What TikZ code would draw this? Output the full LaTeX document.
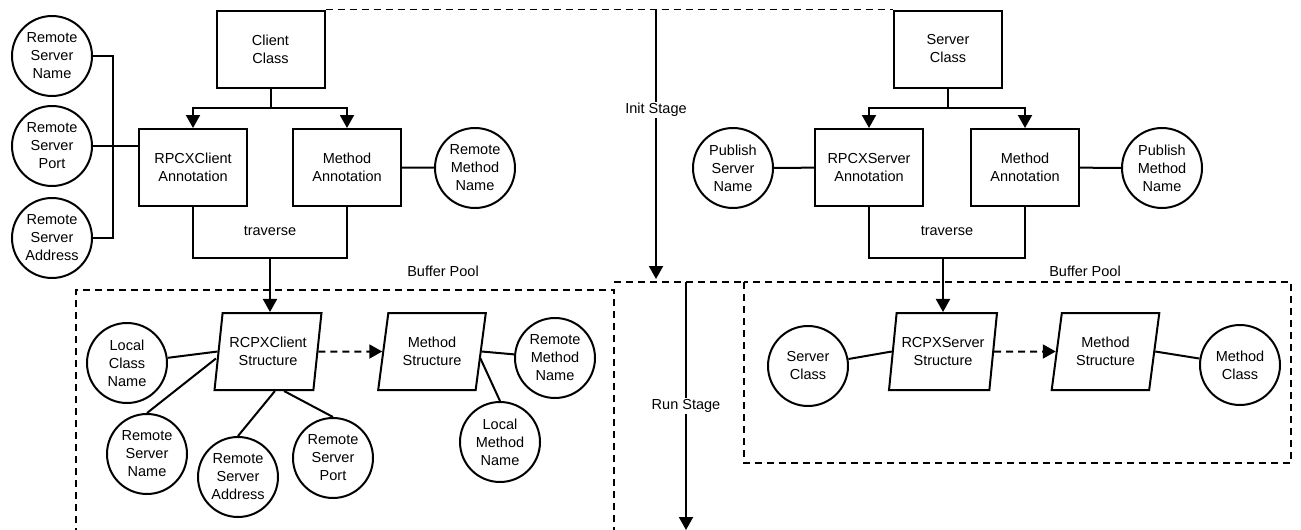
\documentclass[tikz,border=0pt]{standalone}
\usepackage{fontspec}
\setmainfont{Liberation Sans}
\usetikzlibrary{arrows.meta,shapes.geometric,calc}
\begin{document}
\begin{tikzpicture}[x=1pt,y=-1pt,
  every node/.style={font=\fontsize{14.5}{18}\selectfont, align=center},
  ln/.style={line width=2pt},
  dsh/.style={line width=1.8pt, dash pattern=on 7pt off 5pt},
  arr/.style={ln,-{Triangle[length=13pt,width=14pt]}},
  darr/.style={line width=2pt, dash pattern=on 7pt off 5pt,-{Triangle[length=13pt,width=14pt]}},
  boxnode/.style={draw, ln, rectangle, minimum width=108pt, minimum height=77pt, inner sep=2pt},
  circnode/.style={draw, ln, circle, minimum size=80pt, inner sep=0pt},
  paranode/.style={draw, ln, trapezium, trapezium left angle=77, trapezium right angle=103, trapezium stretches=true, minimum width=108pt, minimum height=77pt, inner sep=1pt},
  lbl/.style={inner sep=1pt}
]
\useasboundingbox (0,0) rectangle (1301,530);

% ---- client top
\node[boxnode] (cc) at (270.5,49) {Client\\Class};
\node[boxnode] (rca) at (193,167.5) {RPCXClient\\Annotation};
\node[boxnode] (mac) at (347,167.5) {Method\\Annotation};
\node[circnode] (rmn) at (475,168) {Remote\\Method\\Name};
\node[circnode] (rsn) at (52,56) {Remote\\Server\\Name};
\node[circnode] (rsp) at (52,146) {Remote\\Server\\Port};
\node[circnode] (rsa) at (52,238) {Remote\\Server\\Address};
\node[lbl] (ctvl) at (270,231) {traverse};
\node[lbl] (bpl) at (443,271) {Buffer Pool};

% ---- client structures
\node[paranode] (rc) at (268,351.5) {RCPXClient\\Structure};
\node[paranode] (ms) at (432,351.5) {Method\\Structure};
\node[circnode] (lcn) at (127,363) {Local\\Class\\Name};
\node[circnode] (rsn2) at (147,454) {Remote\\Server\\Name};
\node[circnode] (rsa2) at (238,477) {Remote\\Server\\Address};
\node[circnode] (rsp2) at (333,458) {Remote\\Server\\Port};
\node[circnode] (rmn2) at (555,358) {Remote\\Method\\Name};
\node[circnode] (lmn) at (500,442) {Local\\Method\\Name};

% ---- server top
\node[boxnode] (sc) at (948,49) {Server\\Class};
\node[boxnode] (rxs) at (869,167.5) {RPCXServer\\Annotation};
\node[boxnode] (mas) at (1025,167.5) {Method\\Annotation};
\node[circnode] (psn) at (733,168) {Publish\\Server\\Name};
\node[circnode] (pmn) at (1162,168) {Publish\\Method\\Name};
\node[lbl] (stvl) at (947,231) {traverse};
\node[lbl] (bpr) at (1085,271) {Buffer Pool};

% ---- server structures
\node[paranode] (rs) at (943,351.5) {RCPXServer\\Structure};
\node[paranode] (ms2) at (1105.5,351.5) {Method\\Structure};
\node[circnode] (scl) at (808,366) {Server\\Class};
\node[circnode] (mcl) at (1240,365) {Method\\Class};

% ---- client connectors
\coordinate (brk) at (113,0);
\draw[ln] (rsn.east) -| (brk |- rsa.east) -- (rsa.east);
\draw[ln] (rsp.east) -- (rsp.east -| rca.west);
\draw[ln] (mac.east) -- (rmn);
\coordinate (csp) at (270.5,108);
\draw[ln] (cc.south) -- (csp);
\draw[arr] (csp) -| (rca.north);
\draw[arr] (csp) -| (mac.north);
\coordinate (ctv) at (270,258);
\draw[ln] (rca.south) |- (mac.south |- ctv) -- (mac.south);
\draw[arr] (ctv) -- (ctv |- rc.north);

\draw[ln] (lcn) -- (rc.west);
\draw[ln] (rsn2.north) -- ([xshift=-1.6pt,yshift=-7pt]rc.west);
\draw[ln] (rsa2.north) -- ($(rc.bottom left corner)!0.61!(rc.bottom right corner)$);
\draw[ln] (rsp2.north) -- ($(rc.bottom left corner)!0.70!(rc.bottom right corner)$);
\draw[darr] (rc.east) -- (ms.west);
\draw[ln] (ms.east) -- (rmn2);
\draw[ln] ([xshift=-1.5pt,yshift=-6.5pt]ms.east) -- (lmn.north);

% ---- server connectors
\draw[ln] (psn) -- (rxs);
\draw[ln] (mas) -- (pmn);
\coordinate (ssp) at (948,108);
\draw[ln] (sc.south) -- (ssp);
\draw[arr] (ssp) -| (rxs.north);
\draw[arr] (ssp) -| (mas.north);
\coordinate (stv) at (943,258);
\draw[ln] (rxs.south) |- (mas.south |- stv) -- (mas.south);
\draw[arr] (stv) -- (stv |- rs.north);
\draw[ln] (scl) -- (rs.west);
\draw[darr] (rs.east) -- (ms2.west);
\draw[ln] (ms2.east) -- (mcl);

% ---- stages and pools
\draw[dsh] (cc.north east) -- (sc.north west);
\coordinate (its) at (656,10);
\coordinate (ite) at (656,279);
\draw[arr] (its) -- (ite);
\node[lbl, fill=white] (itl) at (656,110) {Init Stage};
\coordinate (rss) at (686,282);
\coordinate (rse) at (686,530);
\draw[arr] (rss) -- (rse);
\node[lbl, fill=white] (rsl) at (686,406) {Run Stage};

\draw[dsh] (76,535) -- (76,290) -- (614,290) -- (614,535);
\draw[dsh] (614,282) -- (744,282);
\draw[dsh] (744,282) rectangle (1291,463);
\end{tikzpicture}
\end{document}
